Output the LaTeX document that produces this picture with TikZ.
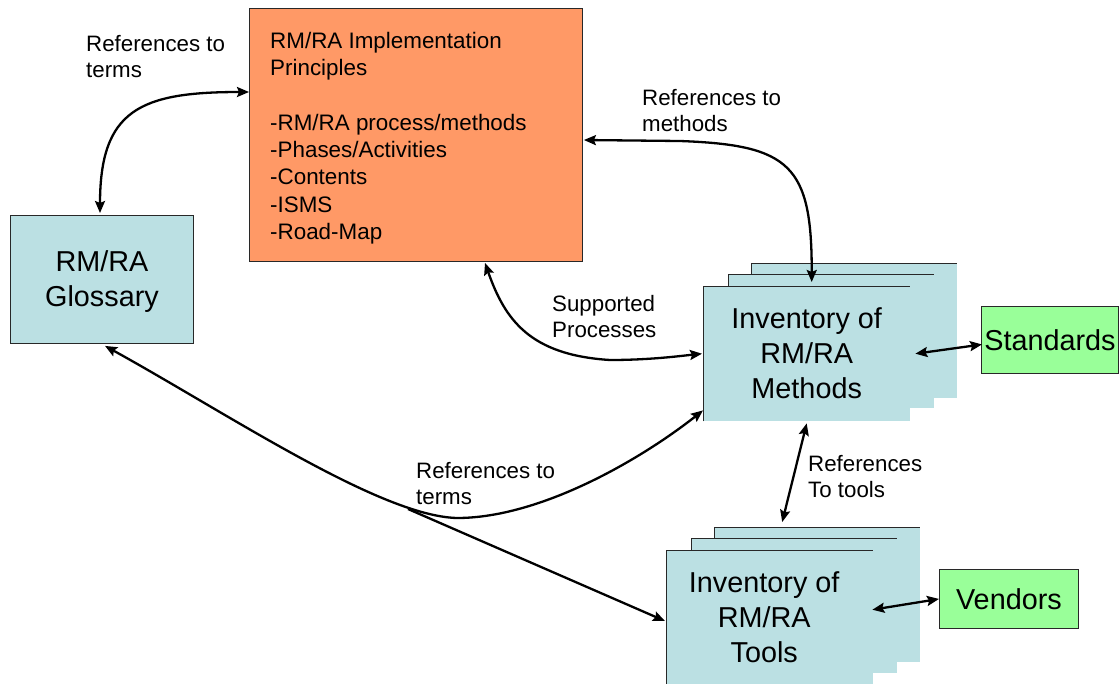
\documentclass[tikz,border=0pt]{standalone}
\usepackage{fontspec}
\setmainfont{Liberation Sans}
\usetikzlibrary{arrows.meta,calc}
\definecolor{boxblue}{RGB}{187,224,227}
\definecolor{boxorange}{RGB}{255,153,102}
\definecolor{boxgreen}{RGB}{153,255,153}
\definecolor{edge}{RGB}{40,40,40}
\tikzset{
  bigtxt/.style={font=\fontsize{28.8}{35}\selectfont, align=center},
  smalltxt/.style={font=\fontsize{22.3}{26.5}\selectfont, align=left, inner sep=0pt, anchor=north west},
  plainbox/.style={draw=edge, line width=0.9pt, inner sep=0pt, anchor=north west},
  stackfill/.style={fill=boxblue},
  stackedge/.style={draw=edge, line width=0.9pt},
  conn/.style={line width=2.3pt, black},
  tipA/.tip={Stealth[length=12pt,width=10pt,inset=2pt]},
  both/.style={conn, tipA-tipA},
  one/.style={conn, -tipA}
}
\begin{document}
\begin{tikzpicture}[x=1pt,y=-1pt]
\useasboundingbox (0,0) rectangle (1119,683);
\fill[white] (0,0) rectangle (1119,683);

% glossary
\node[plainbox, fill=boxblue, minimum width=183pt, minimum height=128pt, bigtxt] (gloss) at (10,215) {\rule{0pt}{26pt}RM/RA\\Glossary};

% implementation principles
\node[plainbox, fill=boxorange, minimum width=333pt, minimum height=253pt] (impl) at (249,8) {};
\node[smalltxt, font=\fontsize{22.4}{27.3}\selectfont] (impltxt) at (270,32) {RM/RA Implementation\\Principles\\[27.3pt]-RM/RA process/methods\\-Phases/Activities\\-Contents\\-ISMS\\-Road-Map};

% methods stack
\fill[stackfill] (751,263) rectangle (957,398);
\draw[stackedge] (751,274) -- (751,263) -- (957,263);
\fill[stackfill] (728,274) rectangle (934,408);
\draw[stackedge] (728,286) -- (728,274) -- (934,274);
\node[stackfill, inner sep=0pt, anchor=north west, minimum width=207pt, minimum height=135pt, bigtxt] (methods) at (703,286) {Inventory of\\RM/RA\\Methods};
\draw[stackedge] (methods.south west) -- (methods.north west) -- (methods.north east);

% tools stack
\fill[stackfill] (714,527) rectangle (920,662);
\draw[stackedge] (714,538) -- (714,527) -- (920,527);
\fill[stackfill] (691,538) rectangle (897,673);
\draw[stackedge] (691,550) -- (691,538) -- (897,538);
\node[stackfill, inner sep=0pt, anchor=north west, minimum width=207pt, minimum height=134pt, bigtxt] (tools) at (666,550) {\hspace*{-11pt}Inventory of\\\hspace*{-11pt}RM/RA\\\hspace*{-11pt}Tools};
\draw[stackedge] (tools.south west) -- (tools.north west) -- (tools.north east);

% standards, vendors
\node[plainbox, fill=boxgreen, minimum width=137pt, minimum height=67pt, font=\fontsize{28.8}{35}\selectfont] (std) at (981,306) {Standards};
\node[plainbox, fill=boxgreen, minimum width=139pt, minimum height=59pt, font=\fontsize{28.8}{35}\selectfont] (vend) at (939,569) {Vendors};

% labels
\node[smalltxt] (l1) at (86,35) {References to\\terms};
\node[smalltxt] (l2) at (642,89) {References to\\methods};
\node[smalltxt] (l3) at (552,295) {Supported\\Processes};
\node[smalltxt] (l4) at (416,462) {References to\\terms};
\node[smalltxt] (l5) at (808,455) {References\\To tools};

% connectors
\draw[both] ($(gloss.north west)+(90,-2)$) .. controls (100,110) and (140,92) .. ($(impl.north west)+(0,84)$);
\draw[both] ($(impl.north east)+(1,132)$) -- (680,141) .. controls (790,145) and (812,165) .. ($(methods.north)+(5,-4)$);
\draw[both] ($(impl.south west)+(236,1)$) .. controls (505,320) and (530,355) .. (610,360) .. controls (650,360) and (680,356) .. ($(methods.west)+(-1,0)$);
\draw[both] ($(gloss.south west)+(95,2)$) .. controls (230,415) and (380,516) .. (457,518) .. controls (540,518) and (640,460) .. ($(methods.south west)+(0,-11)$);
\coordinate (j) at (408,509);
\draw[one] (j) -- ($(tools.north west)+(-1,71)$);
\draw[both] ($(methods.south)+(0,2)$) -- ($(tools.north)+(12.5,-28)$);
\draw[both] ($(methods.east)+(5,0)$) -- ($(std.west)+(1,4.5)$);
\draw[both] ($(tools.east)+(-1,-7.5)$) -- (vend.west);
\end{tikzpicture}
\end{document}
